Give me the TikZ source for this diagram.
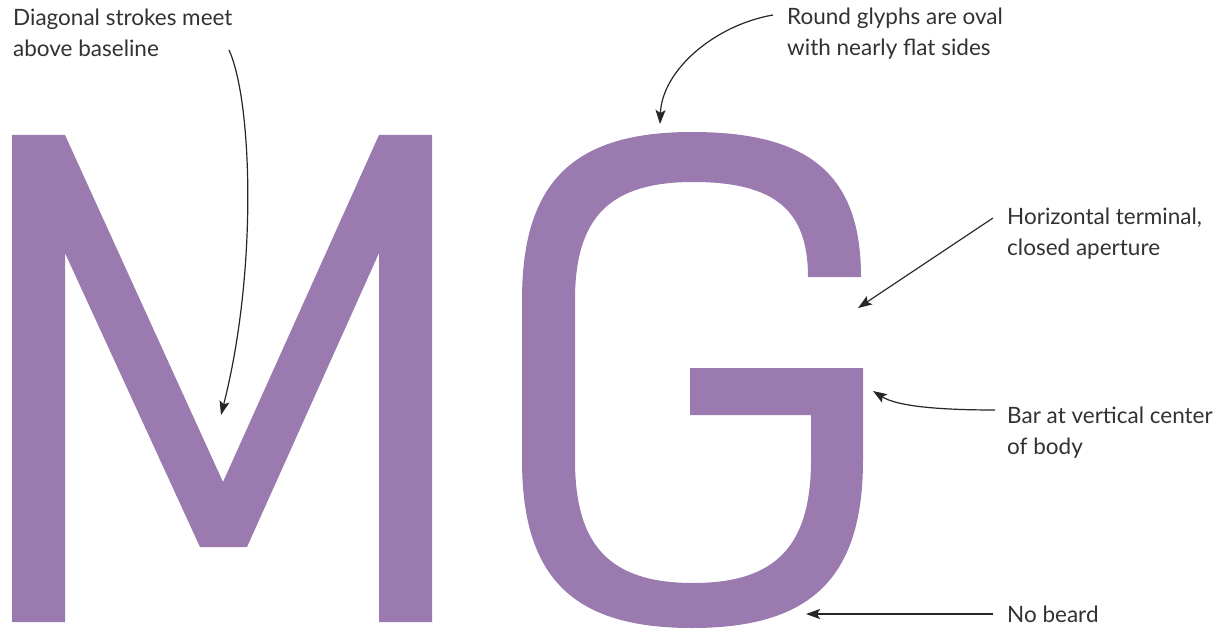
\documentclass[tikz,border=0pt]{standalone}
\usepackage{fontspec}
\setmainfont{Lato}
\usetikzlibrary{arrows.meta,positioning}
\definecolor{glyph}{RGB}{154,122,175}
\definecolor{notetext}{RGB}{50,50,50}
\tikzset{>={Stealth[length=14pt,width=10pt,inset=3pt]}}
\tikzset{
  note/.style={anchor=north west, inner sep=0pt, align=left, text=notetext,
    font={\fontsize{22.5}{31}\selectfont}},
  pointer/.style={->, line width=1.2pt, draw=black!85},
  letter/.style={fill=glyph, draw=none}
}

\begin{document}
\begin{tikzpicture}[x=1pt, y=-1pt]
  \useasboundingbox[fill=white] (0,0) rectangle (1225,631);
  % letter M
  \fill[letter] (12,622) -- (12,135) -- (65,135) -- (223,482) -- (379,135) -- (432,135) -- (432,622) -- (379,622) -- (379,253) -- (247,547) -- (200,547) -- (65,253) -- (65,622) -- cycle;
  % letter G, oval with flat sides
  \fill[letter] (522,300) .. controls (522,182) and (573,132) .. (692,132)
    .. controls (811,132) and (861,176) .. (861,277) -- (808,277)
    .. controls (808,211) and (776,182) .. (693,182)
    .. controls (610,182) and (575,217) .. (575,300) -- (575,460)
    .. controls (575,546) and (610,583) .. (693,583)
    .. controls (776,583) and (811,546) .. (811,460)
    -- (811,415) -- (690,415) -- (690,368) -- (863,368) -- (863,460)
    .. controls (863,578) and (811,628) .. (692,628)
    .. controls (573,628) and (522,578) .. (522,460) -- cycle;
  % labels
  \node[note] (diag) at (13,9) {Diagonal strokes meet\\above baseline};
  \node[note] (round) at (787,8) {Round glyphs are oval\\with nearly flat sides};
  \node[note] (horiz) at (1007,208) {Horizontal terminal,\\closed aperture};
  \node[note] (bar) at (1007,407) {Bar at vertical center\\of body};
  \node[note] (beard) at (1007,606) {No beard};
  % arrow ends
  \coordinate (diag-from) at (229,50);
  \coordinate (vertex) at (221,415);
  \coordinate (round-from) at (773,15);
  \coordinate (crown) at (660,124);
  \coordinate (horiz-from) at (993,218);
  \coordinate (aperture) at (858,308);
  \coordinate (bar-from) at (995,410);
  \coordinate (bar-end) at (873,391);
  \coordinate (beard-from) at (993,614);
  \coordinate (chin) at (806,614);
  % pointers
  \draw[pointer] (diag-from) .. controls (252,100) and (258,270) .. (vertex);
  \draw[pointer] (round-from) .. controls (715,25) and (662,70) .. (crown);
  \draw[pointer] (horiz-from) -- (aperture);
  \draw[pointer] (bar-from) .. controls (930,410) and (895,405) .. (bar-end);
  \draw[pointer] (beard-from) -- (chin);
\end{tikzpicture}
\end{document}
